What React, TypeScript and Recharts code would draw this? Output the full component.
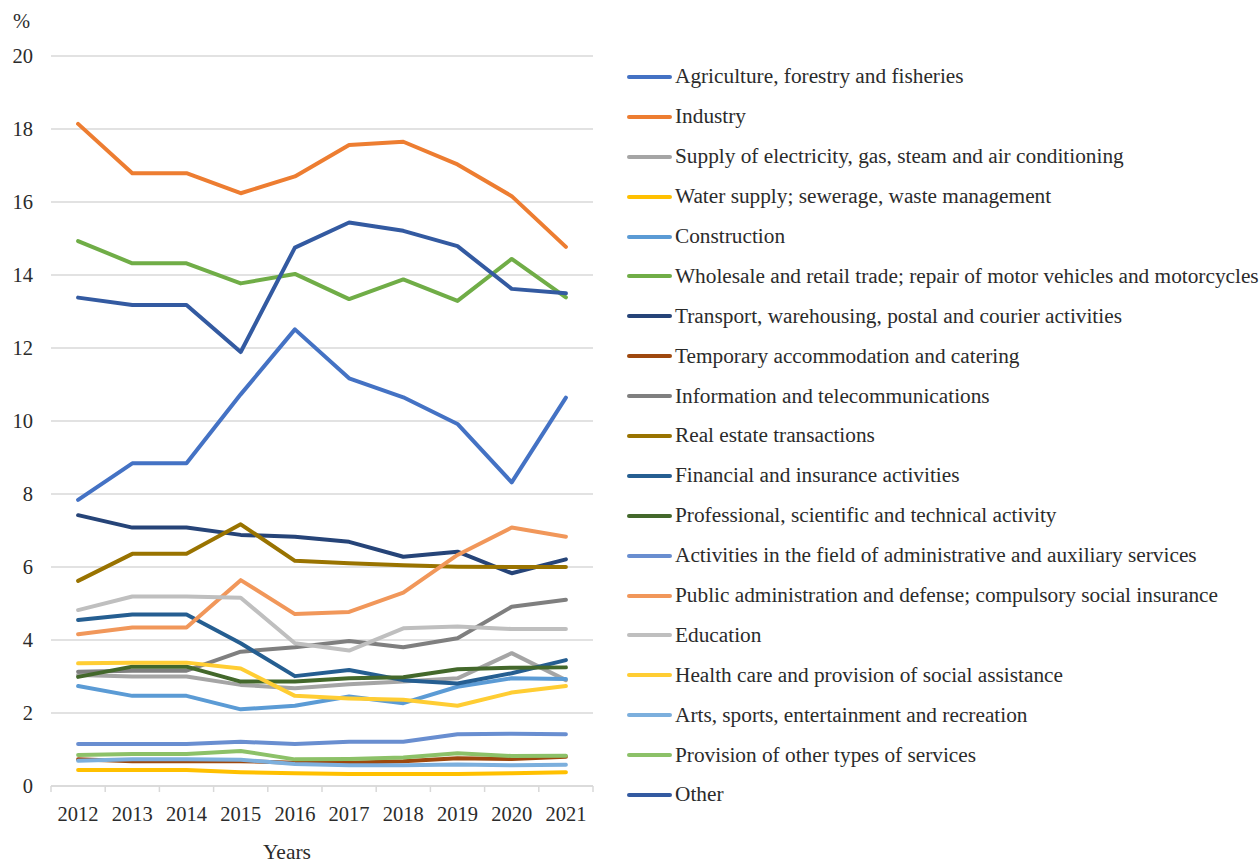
import React from "react"
import { LineChart, Line, XAxis, YAxis, CartesianGrid } from "recharts"

const years = [2012, 2013, 2014, 2015, 2016, 2017, 2018, 2019, 2020, 2021]
const yTicks = [0, 2, 4, 6, 8, 10, 12, 14, 16, 18, 20]

const agriculture = [7.84, 8.84, 8.84, 10.73, 12.51, 11.17, 10.65, 9.92, 8.32, 10.64]
const industry = [18.14, 16.79, 16.79, 16.24, 16.7, 17.56, 17.65, 17.03, 16.16, 14.77]
const supply = [3.04, 3.0, 3.0, 2.77, 2.68, 2.79, 2.86, 2.95, 3.64, 2.9]
const water = [0.44, 0.44, 0.44, 0.38, 0.35, 0.33, 0.33, 0.33, 0.35, 0.38]
const construction = [2.74, 2.47, 2.47, 2.1, 2.2, 2.45, 2.27, 2.72, 2.95, 2.93]
const wholesale = [14.93, 14.32, 14.32, 13.77, 14.03, 13.34, 13.88, 13.29, 14.44, 13.39]
const transport = [7.42, 7.08, 7.08, 6.88, 6.83, 6.69, 6.28, 6.42, 5.83, 6.21]
const accommodation = [0.73, 0.68, 0.68, 0.68, 0.64, 0.64, 0.68, 0.76, 0.74, 0.8]
const information = [3.13, 3.16, 3.16, 3.68, 3.8, 3.97, 3.8, 4.05, 4.91, 5.1]
const realEstate = [5.62, 6.36, 6.36, 7.17, 6.17, 6.1, 6.05, 6.01, 6.0, 6.0]
const financial = [4.55, 4.7, 4.7, 3.91, 3.01, 3.18, 2.9, 2.81, 3.09, 3.45]
const professional = [2.99, 3.27, 3.27, 2.86, 2.86, 2.95, 2.98, 3.2, 3.24, 3.25]
const adminServices = [1.15, 1.15, 1.15, 1.21, 1.15, 1.21, 1.21, 1.42, 1.43, 1.42]
const publicAdmin = [4.16, 4.34, 4.34, 5.64, 4.71, 4.77, 5.3, 6.33, 7.08, 6.83]
const education = [4.82, 5.19, 5.19, 5.16, 3.91, 3.71, 4.32, 4.37, 4.3, 4.3]
const health = [3.36, 3.38, 3.38, 3.22, 2.47, 2.4, 2.36, 2.2, 2.56, 2.74]
const arts = [0.69, 0.73, 0.73, 0.72, 0.6, 0.57, 0.57, 0.59, 0.57, 0.58]
const otherServices = [0.85, 0.88, 0.88, 0.96, 0.73, 0.74, 0.78, 0.9, 0.82, 0.83]
const other = [13.38, 13.18, 13.18, 11.89, 14.75, 15.44, 15.21, 14.79, 13.62, 13.5]

const series = [
  { key: "agriculture", name: "Agriculture, forestry and fisheries", color: "#4472C4", values: agriculture },
  { key: "industry", name: "Industry", color: "#ED7D31", values: industry },
  { key: "supply", name: "Supply of electricity, gas, steam and air conditioning", color: "#A5A5A5", values: supply },
  { key: "water", name: "Water supply; sewerage, waste management", color: "#FFC000", values: water },
  { key: "construction", name: "Construction", color: "#5B9BD5", values: construction },
  { key: "wholesale", name: "Wholesale and retail trade; repair of motor vehicles and motorcycles", color: "#70AD47", values: wholesale },
  { key: "transport", name: "Transport, warehousing, postal and courier activities", color: "#264478", values: transport },
  { key: "accommodation", name: "Temporary accommodation and catering", color: "#9E480E", values: accommodation },
  { key: "information", name: "Information and telecommunications", color: "#7F7F7F", values: information },
  { key: "realEstate", name: "Real estate transactions", color: "#997300", values: realEstate },
  { key: "financial", name: "Financial and insurance activities", color: "#255E91", values: financial },
  { key: "professional", name: "Professional, scientific and technical activity", color: "#43682B", values: professional },
  { key: "adminServices", name: "Activities in the field of administrative and auxiliary services", color: "#698ED0", values: adminServices },
  { key: "publicAdmin", name: "Public administration and defense; compulsory social insurance", color: "#F1975A", values: publicAdmin },
  { key: "education", name: "Education", color: "#BFBFBF", values: education },
  { key: "health", name: "Health care and provision of social assistance", color: "#FFCD33", values: health },
  { key: "arts", name: "Arts, sports, entertainment and recreation", color: "#7CAFDD", values: arts },
  { key: "otherServices", name: "Provision of other types of services", color: "#8CC168", values: otherServices },
  { key: "other", name: "Other", color: "#335AA1", values: other },
]

const data = years.map((year, i) => {
  const row: any = { year }
  series.forEach((s) => (row[s.key] = s.values[i]))
  return row
})

// category boundaries get tick marks, category centres get labels
const xTicks = [...years.flatMap((y) => [y - 0.5, y]), years[years.length - 1] + 0.5]

const FONT = "'Liberation Serif', 'Times New Roman', serif"
const TEXT = "#2b2b2b"
const GRID = "#D9D9D9"

const XTick = ({ x, y, payload }: any) => {
  if (Number.isInteger(payload.value)) {
    return (
      <text x={x} y={y + 35} textAnchor="middle" fill={TEXT} fontSize={20.5} fontFamily={FONT}>
        {payload.value}
      </text>
    )
  }
  return <line x1={x} x2={x} y1={y} y2={y + 6} stroke={GRID} strokeWidth={1.5} />
}

export default function App() {
  return (
    <div style={{ position: "absolute", left: 0, top: 0, width: 1260, height: 864, background: "#fff" }}>
      <LineChart width={1260} height={864} data={data} margin={{ top: 56, right: 667, bottom: 18, left: 1 }}>
        <CartesianGrid vertical={false} stroke={GRID} strokeWidth={1.3} />
        <XAxis
          dataKey="year"
          type="number"
          domain={[years[0] - 0.5, years[years.length - 1] + 0.5]}
          ticks={xTicks}
          interval={0}
          height={60}
          tickSize={0}
          tickMargin={0}
          tickLine={false}
          axisLine={{ stroke: GRID, strokeWidth: 1.5 }}
          tick={<XTick />}
        />
        <YAxis
          domain={[0, 20]}
          ticks={yTicks}
          interval={0}
          width={50}
          axisLine={false}
          tickLine={false}
          tickMargin={12}
          tick={{ fill: TEXT, fontSize: 20.5, fontFamily: FONT }}
        />
        {series.map((s) => (
          <Line
            key={s.key}
            dataKey={s.key}
            name={s.name}
            type="linear"
            stroke={s.color}
            strokeWidth={4}
            strokeLinecap="round"
            strokeLinejoin="round"
            dot={false}
            activeDot={false}
            isAnimationActive={false}
          />
        ))}
      </LineChart>

      <div style={{ position: "absolute", left: 13, top: 10, fontFamily: FONT, fontSize: 20.5, color: TEXT }}>%</div>
      <div
        style={{
          position: "absolute",
          left: 237,
          width: 100,
          top: 840,
          textAlign: "center",
          fontFamily: FONT,
          fontSize: 21.5,
          color: TEXT,
        }}
      >
        Years
      </div>

      <div style={{ position: "absolute", left: 627, top: 57 }}>
        {series.map((s) => (
          <div key={s.key} style={{ display: "flex", alignItems: "center", height: 39.9 }}>
            <div style={{ width: 45, height: 4, borderRadius: 2, background: s.color }} />
            <span
              style={{
                marginLeft: 3,
                fontFamily: FONT,
                fontSize: 21.3,
                color: TEXT,
                whiteSpace: "nowrap",
              }}
            >
              {s.name}
            </span>
          </div>
        ))}
      </div>
    </div>
  )
}
